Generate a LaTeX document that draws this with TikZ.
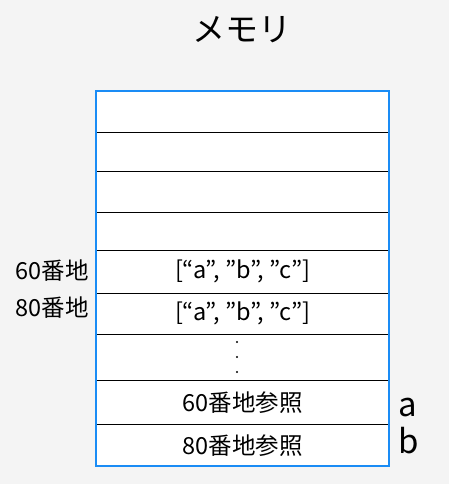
\documentclass[tikz,border=0pt]{standalone}
\usepackage{fontspec}
\setmainfont{Noto Sans CJK JP}
\definecolor{bg}{HTML}{F4F4F4}
\definecolor{memblue}{HTML}{1A8CF5}
\begin{document}
\begin{tikzpicture}[x=1pt,y=-1pt,
  cell/.style={anchor=north west, minimum width=293pt, inner sep=0pt, fill=white, font=\fontsize{23.5}{27}\selectfont},
  sep/.style={black, line width=1pt},
  lbl/.style={font=\fontsize{23.5}{27}\selectfont, inner sep=0pt},
  var/.style={font=\fontsize{33}{38}\selectfont, inner sep=0pt},
  dotmark/.style={circle, fill=black, inner sep=0pt, minimum size=2.3pt}]
\useasboundingbox (0,0) rectangle (449,484);
\fill[bg] (0,0) rectangle (449,484);
\node[font=\fontsize{33}{38}\selectfont, inner sep=0pt] (title) at (241.5,30) {メモリ};
\node[cell, minimum height=41pt] (r1) at (96,91) {};
\node[cell, minimum height=39pt] (r2) at (96,132) {};
\node[cell, minimum height=41pt] (r3) at (96,171) {};
\node[cell, minimum height=38pt] (r4) at (96,212) {};
\node[cell, minimum height=43pt] (r5) at (96,250) {[“a”, ”b”, ”c”]};
\node[cell, minimum height=41pt] (r6) at (96,293) {[“a”, ”b”, ”c”]};
\node[cell, minimum height=46pt] (r7) at (96,334) {};
\node[cell, minimum height=44pt] (r8) at (96,380) {60番地参照};
\node[cell, minimum height=42pt] (r9) at (96,424) {80番地参照};
\node[dotmark] (d1) at (237,342) {};
\node[dotmark] (d2) at (237,357) {};
\node[dotmark] (d3) at (237,372) {};
\foreach \r in {r1,r2,r3,r4,r5,r6,r7,r8}{
  \draw[sep] (\r.south west) -- (\r.south east);
}
\draw[memblue, line width=2pt] (r1.north west) rectangle (r9.south east);
\node[lbl, anchor=base east] (a60) at (89,279.5) {60番地};
\node[lbl, anchor=base east] (a80) at (89,316.5) {80番地};
\node[var, anchor=base west] (va) at (398.5,416) {a};
\node[var, anchor=base west] (vb) at (398.5,453) {b};
\end{tikzpicture}
\end{document}
